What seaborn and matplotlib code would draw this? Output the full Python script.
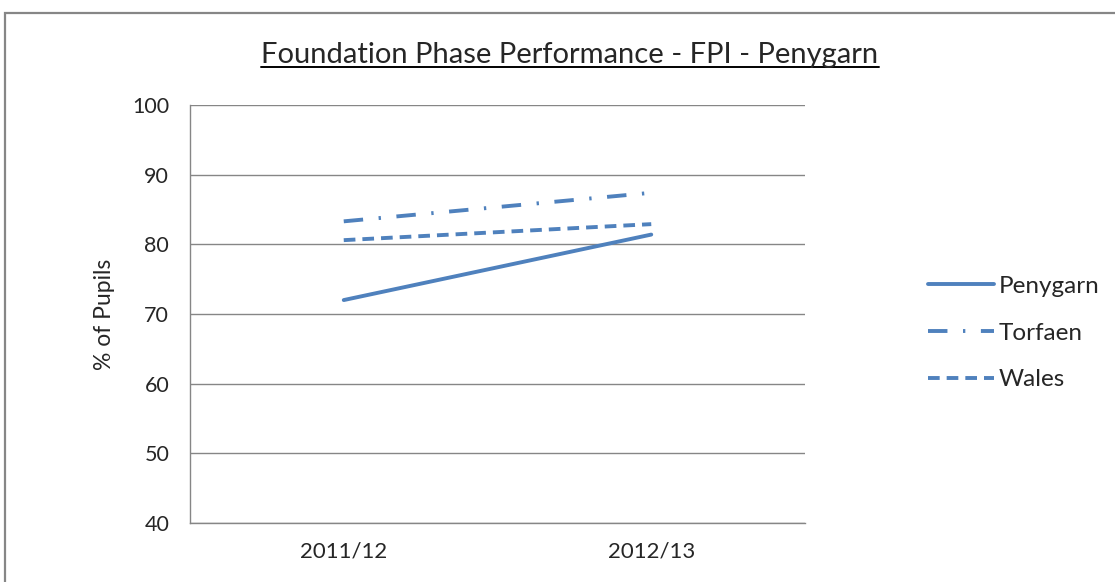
import pandas as pd
import seaborn as sns
import matplotlib.pyplot as plt
from matplotlib.lines import Line2D
from matplotlib.patches import Rectangle

years = ["2011/12", "2012/13"]
penygarn = [72.0, 81.4]
torfaen = [83.3, 87.4]
wales = [80.6, 82.9]
series = ["Penygarn", "Torfaen", "Wales"]
y_ticks = [40, 50, 60, 70, 80, 90, 100]

df = pd.DataFrame({
    "year": years * 3,
    "value": penygarn + torfaen + wales,
    "area": [s for s in series for _ in years],
})

sns.set_theme(style="white")
plt.rcParams["font.family"] = ["Lato", "DejaVu Sans"]

blue = "#4F81BD"
grey = "#868686"
lw = 2.8
dash_styles = {"Penygarn": "", "Torfaen": (5, 4, 0.6, 4), "Wales": (3.0, 1.8)}

fig = plt.figure(figsize=(11.15, 5.82), dpi=100)
ax = fig.add_axes([190 / 1115, 1 - 523 / 582, 615 / 1115, 418 / 582])

sns.lineplot(
    data=df, x="year", y="value", hue="area", style="area",
    palette={s: blue for s in series}, dashes=dash_styles,
    linewidth=lw, ax=ax, legend=False, sort=False,
)

ax.set_xlim(-0.5, 1.5)
ax.set_ylim(40, 100)
ax.set_yticks(y_ticks)
ax.set_yticklabels([str(v) for v in y_ticks], fontsize=15.5)
ax.set_xticks([0, 1])
ax.set_xticklabels(years, fontsize=16)
ax.set_xticks([-0.5, 0.5, 1.5], minor=True)
ax.tick_params(axis="x", which="major", length=0, pad=13)
ax.tick_params(axis="x", which="minor", length=7, width=1, color=grey, direction="out")
ax.tick_params(axis="y", length=9, width=1, color=grey, direction="out", pad=6)
ax.grid(axis="y", color=grey, linewidth=1)
ax.set_axisbelow(True)
for side in ["top", "right"]:
    ax.spines[side].set_visible(False)
for side in ["left", "bottom"]:
    ax.spines[side].set_color(grey)
    ax.spines[side].set_linewidth(1)
ax.set_xlabel("")
ax.set_ylabel("% of Pupils", fontsize=16.5, labelpad=12)

# legend at the right
handles = [Line2D([], [], color=blue, lw=lw),
           Line2D([], [], color=blue, lw=lw, dashes=dash_styles["Torfaen"]),
           Line2D([], [], color=blue, lw=lw, dashes=dash_styles["Wales"])]
fig.legend(handles, series, loc="center left", bbox_to_anchor=(906 / 1115, 1 - 333 / 582),
           frameon=False, fontsize=17.5, handlelength=2.7, handletextpad=0.2,
           labelspacing=1.05)

# title with underline
title = fig.text(570 / 1115, 1 - 55 / 582, "Foundation Phase Performance - FPI - Penygarn",
                 ha="center", va="center", fontsize=21)
fig.canvas.draw()
bb = title.get_window_extent().transformed(fig.transFigure.inverted())
fig.add_artist(Line2D([bb.x0, bb.x1], [bb.y0 + 0.002, bb.y0 + 0.002],
                      transform=fig.transFigure, color="black", lw=1.4))

# chart border
fig.add_artist(Rectangle((5 / 1115, -0.1), 1.2, 1 - 13 / 582 + 0.1,
                         transform=fig.transFigure, fill=False,
                         edgecolor=grey, lw=1.6))

fig.savefig("out.png", dpi=100)
